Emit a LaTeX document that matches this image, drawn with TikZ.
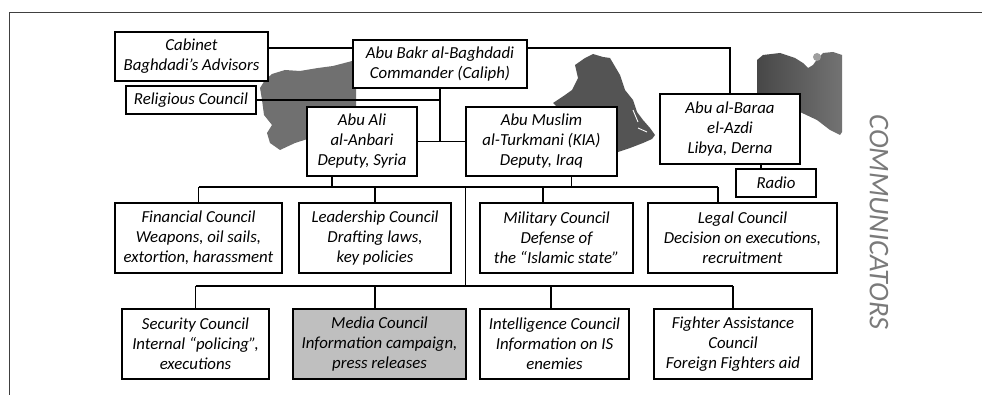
\documentclass[tikz,border=0pt]{standalone}
\usepackage{fontspec}
\setmainfont{Carlito}
\tikzset{
  box/.style={draw, line width=1.6pt, fill=white, align=center, inner sep=0pt, font=\fontsize{16.8}{20}\selectfont\itshape},
  link/.style={line width=1.2pt},
  land/.style={draw=none}
}
\begin{document}
\begin{tikzpicture}[x=1pt,y=-1pt]
\useasboundingbox (0,0) rectangle (982,395);
\draw[line width=1pt, black!75] (9,395)--(9,13)--(982,13);
\fill[land, black!56] (272,74)--(285,70)--(300,71)--(318,68)--(333,66)--(356,60)--(356,110)--(345,110)--(340,125)--(320,135)--(295,143)--(280,150)--(270,143)--(267,133)--(272,125)--(264,115)--(262,100)--(260,88)--(265,80)--cycle;
\fill[land, black!67] (575,65)--(585,58)--(593,54)--(603,57)--(610,58)--(620,75)--(625,90)--(633,100)--(637,112)--(643,120)--(650,128)--(655,135)--(652,139)--(643,143)--(630,148)--(618,152)--(600,152)--(560,110)--(553,103)--(565,95)--(572,90)--(578,78)--cycle;
\draw[white, line width=0.9pt] (633,110)--(638,122) (638,128)--(647,132);
\shade[land, left color=black!72, right color=black!55] (757,60)--(763,55)--(780,53)--(795,58)--(803,63)--(808,68)--(813,65)--(818,58)--(823,53)--(833,52)--(842,55)--(842,132)--(840,135)--(830,130)--(817,120)--(800,112)--(757,112)--(757,72)--cycle;
\fill[black!38] (817,57) circle (4);

\node[box, minimum width=153pt, minimum height=49pt] (cab) at (191.5,56.5) {Cabinet\\Baghdadi’s Advisors};
\node[box, minimum width=174pt, minimum height=48pt] (bag) at (440,64) {Abu Bakr al-Baghdadi\\Commander (Caliph)};
\node[box, minimum width=130pt, minimum height=28pt] (rel) at (191,100) {Religious Council};
\node[box, minimum width=110pt, minimum height=69pt] (ali) at (362,141.5) {Abu Ali\\al-Anbari\\Deputy, Syria};
\node[box, minimum width=151pt, minimum height=69pt] (mus) at (541.5,141.5) {Abu Muslim\\al-Turkmani (KIA)\\Deputy, Iraq};
\node[box, minimum width=140pt, minimum height=70pt] (bar) at (730,129) {Abu al-Baraa\\el-Azdi\\Libya, Derna};
\node[box, minimum width=80pt, minimum height=28pt] (rad) at (776,183) {Radio};
\node[box, minimum width=167pt, minimum height=70pt] (fin) at (198.5,238) {Financial Council\\Weapons, oil sails,\\extortion, harassment};
\node[box, minimum width=152pt, minimum height=70pt] (lead) at (375,238) {Leadership Council\\Drafting laws,\\key policies};
\node[box, minimum width=153pt, minimum height=70pt] (mil) at (556.5,238) {Military Council\\Defense of\\the “Islamic state”};
\node[box, minimum width=189pt, minimum height=70pt] (leg) at (742.5,238) {Legal Council\\Decision on executions,\\recruitment};
\node[box, minimum width=147pt, minimum height=70pt] (sec) at (195.5,344) {Security Council\\Internal “policing”,\\executions};
\node[box, minimum width=173pt, minimum height=70pt, fill=black!25] (med) at (379.5,344) {Media Council\\Information campaign,\\press releases};
\node[box, minimum width=149pt, minimum height=70pt] (intl) at (554.5,344) {Intelligence Council\\Information on IS\\enemies};
\node[box, minimum width=158pt, minimum height=70pt] (fig) at (733,344) {Fighter Assistance\\Council\\Foreign Fighters aid};
\node[rotate=-90, black!52, font=\fontsize{28.5}{28.5}\selectfont\itshape] (com) at (879,222) {COMMUNICATORS};

\coordinate (top) at (0,48);
\coordinate (busA) at (0,187);
\coordinate (busB) at (0,286);
\draw[link] (cab.east |- top) -- (bag.west |- top);
\draw[link] (bag.east |- top) -| (bar.north);
\draw[link] (rel.east) -- (bag.south |- rel.east);
\draw[link] (bag.south) -- (bag.south |- ali.east);
\draw[link] (ali.east) -- (mus.west);
\draw[link] ([xshift=-15pt]rad.north) -- ([xshift=-15pt]rad.north |- bar.south);
\draw[link] ([xshift=-30pt]ali.south) -- ([xshift=-30pt]ali.south |- busA);
\draw[link] ([xshift=30pt]mus.south) -- ([xshift=30pt]mus.south |- busA);
\draw[link] (fin.north |- busA) -- ([xshift=-24.5pt]leg.north |- busA);
\foreach \n/\dx in {fin/0,lead/0,mil/-13.5,leg/-24.5}
  \draw[link] ([xshift=\dx pt]\n.north) -- ([xshift=\dx pt]\n.north |- busA);
\draw[link] (mus.west |- busA) -- (mus.west |- busB);
\draw[link] (sec.north |- busB) -- (fig.north |- busB);
\foreach \n/\dx in {sec/0,med/-4.5,intl/-3.5,fig/0}
  \draw[link] ([xshift=\dx pt]\n.north) -- ([xshift=\dx pt]\n.north |- busB);
\end{tikzpicture}
\end{document}
